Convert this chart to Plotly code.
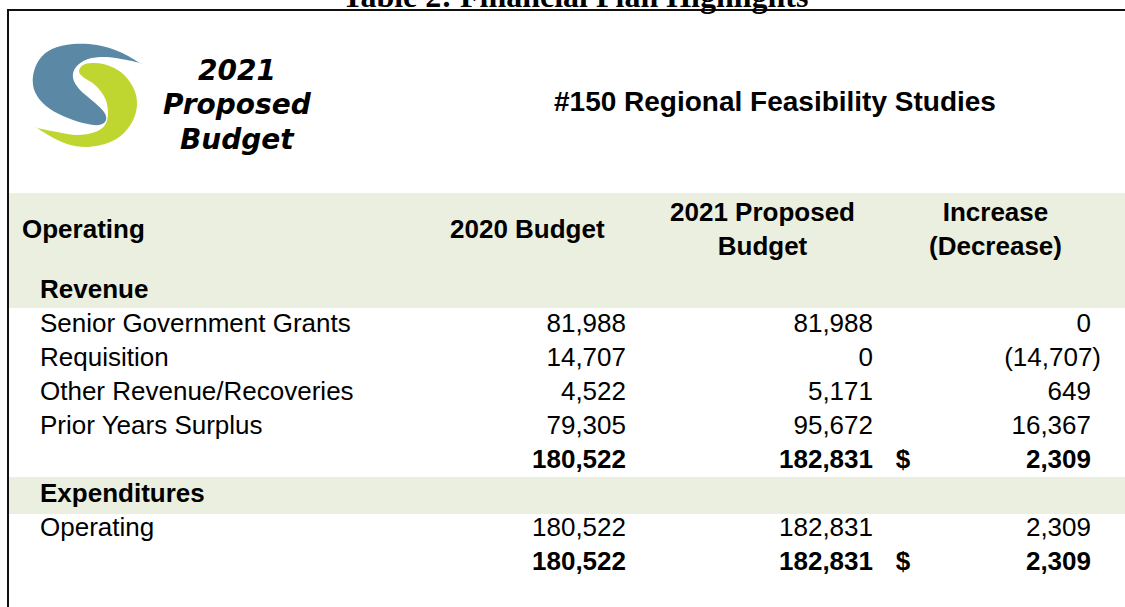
import plotly.graph_objects as go

# ---------------- data ----------------
table_title = "Table 2: Financial Plan Highlights"
report_title = "#150 Regional Feasibility Studies"
badge_lines = ["2021", "Proposed", "Budget"]
column_headers = ["Operating", "2020 Budget", "2021 Proposed<br>Budget", "Increase<br>(Decrease)"]
section_labels = ["Revenue", "Expenditures"]

revenue_items = ["Senior Government Grants", "Requisition", "Other Revenue/Recoveries", "Prior Years Surplus"]
revenue_2020 = [81988, 14707, 4522, 79305]
revenue_2021 = [81988, 0, 5171, 95672]
revenue_change = [0, -14707, 649, 16367]
revenue_total = [180522, 182831, 2309]

expenditure_items = ["Operating"]
expenditure_2020 = [180522]
expenditure_2021 = [182831]
expenditure_change = [2309]
expenditure_total = [180522, 182831, 2309]

# ---------------- layout constants ----------------
W, H = 1125, 607
FONT = "Liberation Sans, Arial, sans-serif"
FS = 26
BAND = "#EBEFDF"
ROW0_Y, ROW_STEP = 291, 34
LABEL_X, SECTION_X = 40, 40
X2020, X2021, XDOLLAR, XCHG = 626, 873, 903, 1091
PAREN_OVERHANG = 10


def fmt(v):
    return f"({-v:,})" if v < 0 else f"{v:,}"


# build rows: (label, v20, v21, chg, kind)
rows = [(section_labels[0], None, None, None, "section")]
for lab, a, b, c in zip(revenue_items, revenue_2020, revenue_2021, revenue_change):
    rows.append((lab, a, b, c, "item"))
rows.append(("", *revenue_total, "total"))
rows.append((section_labels[1], None, None, None, "section"))
for lab, a, b, c in zip(expenditure_items, expenditure_2020, expenditure_2021, expenditure_change):
    rows.append((lab, a, b, c, "item"))
rows.append(("", *expenditure_total, "total"))

row_y = [ROW0_Y + i * ROW_STEP for i in range(len(rows))]


def wrap(s, kind):
    return f"<b>{s}</b>" if kind in ("total", "section") else s


lab_x, lab_y, lab_t = [], [], []
c20_x, c20_y, c20_t = [], [], []
c21_x, c21_y, c21_t = [], [], []
ch_x, ch_y, ch_t = [], [], []
dl_x, dl_y = [], []
for (lab, a, b, c, kind), y in zip(rows, row_y):
    if lab:
        lab_x.append(SECTION_X if kind == "section" else LABEL_X)
        lab_y.append(y)
        lab_t.append(wrap(lab, kind))
    if a is not None:
        c20_x.append(X2020); c20_y.append(y); c20_t.append(wrap(fmt(a), kind))
        c21_x.append(X2021); c21_y.append(y); c21_t.append(wrap(fmt(b), kind))
        ch_x.append(XCHG + (PAREN_OVERHANG if c < 0 else 0)); ch_y.append(y); ch_t.append(wrap(fmt(c), kind))
    if kind == "total":
        dl_x.append(XDOLLAR); dl_y.append(y)

fig = go.Figure()
tf = dict(family=FONT, size=FS, color="#000000")
fig.add_trace(go.Scatter(x=lab_x, y=lab_y, text=lab_t, mode="text", textposition="middle right", textfont=tf, hoverinfo="skip"))
fig.add_trace(go.Scatter(x=c20_x, y=c20_y, text=c20_t, mode="text", textposition="middle left", textfont=tf, hoverinfo="skip"))
fig.add_trace(go.Scatter(x=c21_x, y=c21_y, text=c21_t, mode="text", textposition="middle left", textfont=tf, hoverinfo="skip"))
fig.add_trace(go.Scatter(x=ch_x, y=ch_y, text=ch_t, mode="text", textposition="middle left", textfont=tf, hoverinfo="skip"))
fig.add_trace(go.Scatter(x=dl_x, y=dl_y, text=["<b>$</b>"] * len(dl_x), mode="text", textposition="middle center", textfont=tf, hoverinfo="skip"))

shapes = []
# bands
shapes.append(dict(type="rect", xref="x", yref="y", x0=9, x1=W, y0=193, y1=308, fillcolor=BAND, line=dict(width=0), layer="below"))
exp_idx = [r[0] for r in rows].index(section_labels[1])
ey = row_y[exp_idx]
shapes.append(dict(type="rect", xref="x", yref="y", x0=9, x1=W, y0=ey - 18, y1=ey + 19, fillcolor=BAND, line=dict(width=0), layer="below"))
# frame
shapes.append(dict(type="line", xref="x", yref="y", x0=7, x1=W, y0=10, y1=10, line=dict(color="#111111", width=2)))
shapes.append(dict(type="line", xref="x", yref="y", x0=8, x1=8, y0=9, y1=H, line=dict(color="#111111", width=2)))


def smooth_path(pts):
    n = len(pts)
    d = f"M {pts[0][0]:.1f},{pts[0][1]:.1f}"
    for i in range(n):
        p0 = pts[(i - 1) % n]; p1 = pts[i]; p2 = pts[(i + 1) % n]; p3 = pts[(i + 2) % n]
        c1 = (p1[0] + (p2[0] - p0[0]) / 6, p1[1] + (p2[1] - p0[1]) / 6)
        c2 = (p2[0] - (p3[0] - p1[0]) / 6, p2[1] - (p3[1] - p1[1]) / 6)
        d += f" C {c1[0]:.1f},{c1[1]:.1f} {c2[0]:.1f},{c2[1]:.1f} {p2[0]:.1f},{p2[1]:.1f}"
    return d + " Z"


blue_pts = [(140, 63), (140, 63), (120, 52), (97, 45), (73, 44), (52, 49), (39, 60), (33, 76), (35, 92), (46, 106),
            (63, 116), (83, 123), (99, 125), (106, 120), (104, 112), (94, 102), (80, 90), (73, 78), (76, 67),
            (88, 59), (107, 57), (127, 60)]
green_pts = [(79, 71), (83, 65), (92, 63), (107, 65), (122, 73), (133, 87), (137, 102), (134, 118), (124, 133),
             (108, 143), (87, 147), (67, 144), (50, 136), (37, 128), (37, 128), (57, 132), (77, 135), (95, 132),
             (105, 125), (108, 113), (105, 98), (95, 85), (83, 77)]
shapes.append(dict(type="path", xref="x", yref="y", path=smooth_path(blue_pts), fillcolor="#5B88A5", line=dict(width=0)))
shapes.append(dict(type="path", xref="x", yref="y", path=smooth_path(green_pts), fillcolor="#BFD631", line=dict(width=0)))

ann = []
# cropped document title above the frame
ann.append(dict(xref="x", yref="paper", x=575, y=1 + 4.5 / H, text=f"<b>{table_title}</b>", showarrow=False,
                xanchor="center", yanchor="middle", font=dict(family="Liberation Serif, Times New Roman, serif", size=32, color="#000")))
# badge text
for t, yy in zip(badge_lines, [70, 104, 139]):
    ann.append(dict(xref="x", yref="y", x=237, y=yy, text=f"<b><i>{t}</i></b>", showarrow=False, xanchor="center",
                    yanchor="middle", font=dict(family="DejaVu Sans, Verdana, sans-serif", size=28, color="#000")))
ann.append(dict(xref="x", yref="y", x=775, y=101, text=f"<b>{report_title}</b>", showarrow=False, xanchor="center",
                yanchor="middle", font=dict(family=FONT, size=28, color="#000")))
# column headers
hdr_pos = [(20, 229, "left"), (527, 229, "center"), (762, 229, "center"), (995, 229, "center")]
for t, (xx, yy, al) in zip(column_headers, hdr_pos):
    ann.append(dict(xref="x", yref="y", x=xx, y=yy, text=f"<b>{t}</b>", showarrow=False, xanchor=al, align="center",
                    yanchor="middle", font=dict(family=FONT, size=FS, color="#000")))

fig.update_layout(
    width=W, height=H, autosize=False,
    margin=dict(l=0, r=0, t=0, b=0),
    paper_bgcolor="white", plot_bgcolor="white",
    showlegend=False,
    xaxis=dict(range=[0, W], visible=False, fixedrange=True),
    yaxis=dict(range=[H, 0], visible=False, fixedrange=True),
    shapes=shapes, annotations=ann,
)
fig.write_html("out.html", config={"displayModeBar": False},
               post_script="document.body.style.margin='0';document.body.style.overflow='hidden';")
